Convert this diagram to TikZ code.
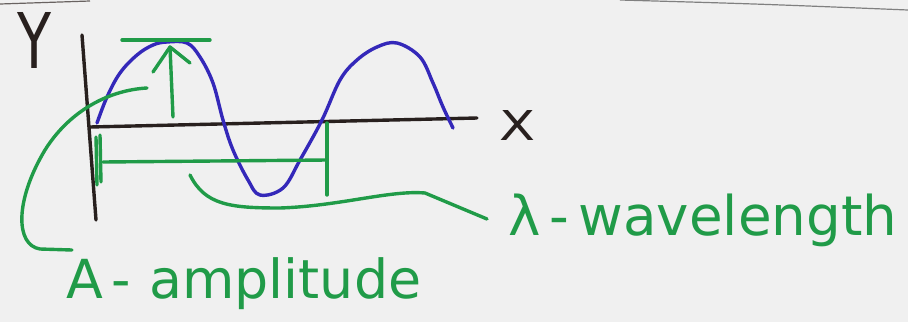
\documentclass[tikz,border=0pt]{standalone}
\usepackage{fontspec}
\newfontfamily\handfont{DejaVu Sans}
\definecolor{paper}{RGB}{240,240,240}
\definecolor{pen}{RGB}{40,32,30}
\definecolor{wave}{RGB}{52,40,185}
\definecolor{mark}{RGB}{32,155,72}
\begin{document}
\begin{tikzpicture}[x=1pt,y=-1pt,
  inkk/.style={line width=3.4pt,line cap=round,line join=round},
  axisline/.style={inkk,draw=pen},
  waveline/.style={inkk,draw=wave},
  markline/.style={inkk,draw=mark},
  labeltext/.style={inner sep=0pt,anchor=west,text=mark,font=\handfont},
  axistext/.style={inner sep=0pt,text=pen,font=\handfont}]
\useasboundingbox (0,0) rectangle (908,322);
\fill[paper] (0,0) rectangle (908,322);
% paper edges
\draw[pen!70,line width=1.2pt] (0,4) -- (90,1);
\draw[gray,line width=1.2pt] (620,0) .. controls (760,4) .. (908,10);
% axes
\coordinate (yt) at (82,35);
\coordinate (yb) at (96,220);
\coordinate (xl) at (90,127);
\coordinate (xr) at (477,118);
\draw[axisline] (yt) -- (yb);
\draw[axisline] (xl) -- (xr);
\node[axistext] (ylab) at (35,40) {\resizebox{34pt}{56pt}{Y}};
\node[axistext] (xlab) at (518,125) {\resizebox{36pt}{30pt}{X}};
% wave
\draw[waveline] plot[smooth,tension=0.6] coordinates {
 (97,123) (107,97) (120,73) (137,55) (153,45) (167,42) (187,43) (200,57)
 (213,83) (223,120) (233,150) (248,180) (260,195) (283,188) (300,160)
 (322,120) (340,80) (357,60) (377,47) (397,43) (420,57) (433,83) (443,107) (453,128)};
% amplitude marker
\coordinate (topl) at (122,40);
\coordinate (topr) at (210,40);
\coordinate (arrb) at (173,117);
\coordinate (arrt) at (170,47);
\draw[markline] (topl) -- (topr);
\draw[markline] (arrb) -- (arrt);
\draw[markline] (153,72) -- (arrt) -- (190,63);
% wavelength marker
\coordinate (wl) at (99,160);
\coordinate (wr) at (327,160);
\draw[markline] (96,137) -- (97,185);
\draw[markline] (100,135) -- (101,182);
\draw[markline] (327,123) -- (327,195);
\draw[markline] (103,162) -- (wr);
% labels
\node[labeltext] (wlab) at (508,220) {\resizebox{389pt}{!}{λ\,-\,wavelength}};
\node[labeltext] (alab) at (66,284) {\resizebox{355pt}{!}{A\,-\,\,amplitude}};
% leader to wavelength
\draw[markline] (190,175) .. controls (205,205) and (230,208) .. (280,208)
  .. controls (340,206) and (390,190) .. (425,193) -- (487,219);
% leader to amplitude
\draw[markline] (147,88) .. controls (110,90) and (70,110) .. (45,150)
  .. controls (15,200) and (15,245) .. (40,249) -- (72,250);
\end{tikzpicture}
\end{document}
